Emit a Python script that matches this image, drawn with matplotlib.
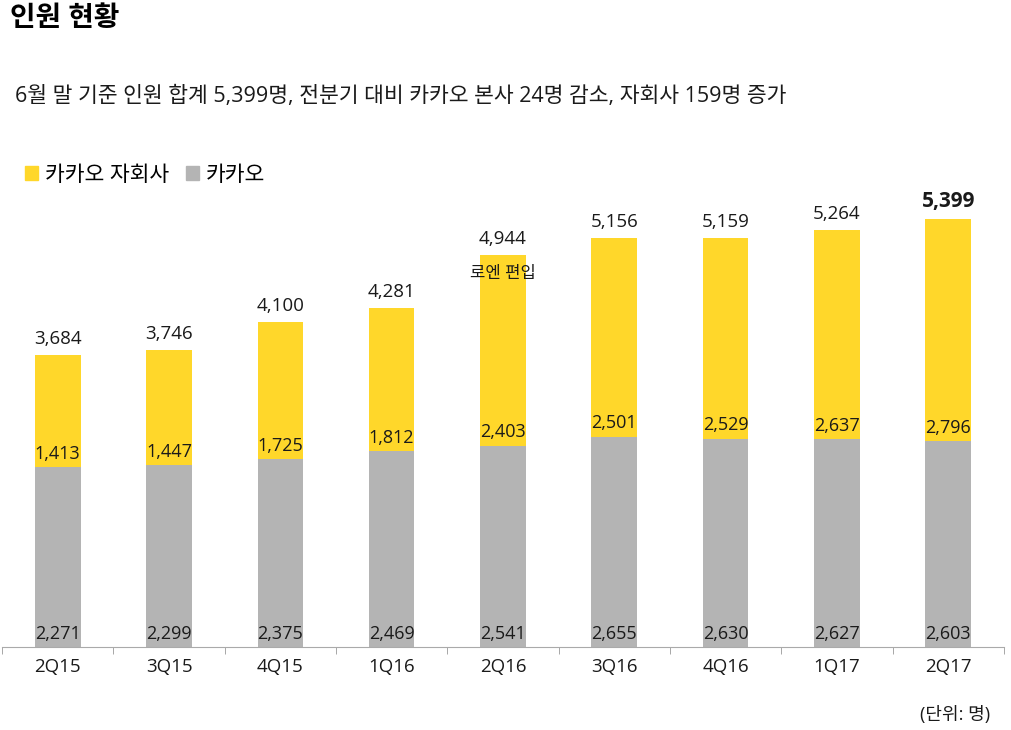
import matplotlib
matplotlib.use("Agg")
import matplotlib.pyplot as plt
from matplotlib.patches import Patch

plt.rcParams['font.family'] = ['Open Sans', 'Noto Sans CJK KR', 'DejaVu Sans']

# Data
quarters = ["2Q15", "3Q15", "4Q15", "1Q16", "2Q16", "3Q16", "4Q16", "1Q17", "2Q17"]
kakao = [2271, 2299, 2375, 2469, 2541, 2655, 2630, 2627, 2603]
subsidiaries = [1413, 1447, 1725, 1812, 2403, 2501, 2529, 2637, 2796]
totals = [3684, 3746, 4100, 4281, 4944, 5156, 5159, 5264, 5399]

yellow = "#FFD72A"
gray = "#B4B4B4"
text_col = "#1a1a1a"

fig = plt.figure(figsize=(10.12, 7.3), dpi=100)
ax = fig.add_axes([0.002, 0.1137, 0.99, 0.6515])

x = range(len(quarters))
ax.bar(x, kakao, width=0.41, color=gray)
ax.bar(x, subsidiaries, width=0.41, bottom=kakao, color=yellow)

for i in x:
    ax.annotate(f"{kakao[i]:,}", (i, 0), xytext=(0, 3), textcoords="offset points",
                ha="center", va="bottom", fontsize=13, color=text_col)
    ax.annotate(f"{subsidiaries[i]:,}", (i, kakao[i]), xytext=(0, 3), textcoords="offset points",
                ha="center", va="bottom", fontsize=13, color=text_col)
    last = i == len(quarters) - 1
    ax.annotate(f"{totals[i]:,}", (i, totals[i]), xytext=(0, 5), textcoords="offset points",
                ha="center", va="bottom", fontsize=15 if last else 13.5,
                fontweight="bold" if last else "normal", color=text_col)

ax.annotate("로엔 편입", (4, totals[4]), xytext=(0, -8), textcoords="offset points",
            ha="center", va="top", fontsize=12, color=text_col)

ax.set_xlim(-0.5, len(quarters) - 0.5)
ax.set_ylim(0, 6000)
ax.set_yticks([])
ax.set_xticks(list(x))
ax.set_xticklabels(quarters, fontsize=13.5, color=text_col)
ax.tick_params(axis="x", which="major", length=0, pad=8)
ax.set_xticks([i - 0.5 for i in range(len(quarters) + 1)], minor=True)
ax.tick_params(axis="x", which="minor", length=5, color="#999999", direction="out")
for s in ["top", "left", "right"]:
    ax.spines[s].set_visible(False)
ax.spines["bottom"].set_color("#AAAAAA")

fig.text(0.01, 0.975, "인원 현황", fontsize=20, fontweight="bold", va="center", ha="left", color="black")
fig.text(0.015, 0.868, "6월 말 기준 인원 합계 5,399명, 전분기 대비 카카오 본사 24명 감소, 자회사 159명 증가",
         fontsize=15.5, va="center", ha="left", color=text_col)

handles = [Patch(color=yellow, label="카카오 자회사"), Patch(color=gray, label="카카오")]
fig.legend(handles=handles, loc="center left", bbox_to_anchor=(0.006, 0.76), ncol=2, frameon=False,
           fontsize=15.5, handlelength=0.6, handleheight=0.6, handletextpad=0.3, columnspacing=0.8)

fig.text(0.978, 0.02, "(단위: 명)", fontsize=13, ha="right", va="center", color=text_col)

fig.savefig("out.png", dpi=100)
